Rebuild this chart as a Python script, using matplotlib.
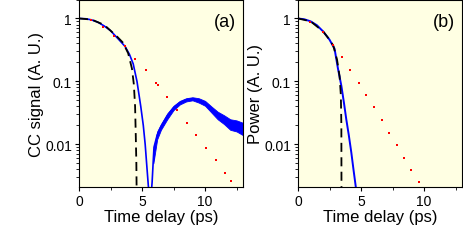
import numpy as np
import matplotlib
matplotlib.use('Agg')
import matplotlib.pyplot as plt
from matplotlib.ticker import MultipleLocator, LogLocator, NullFormatter, FixedFormatter, FixedLocator

plt.rcParams['font.family'] = ['Liberation Sans', 'DejaVu Sans']

# (a) 측정된 CC 신호 (파란 선)
a_t = [0, 0.5, 1, 1.5, 2, 2.5, 3, 3.3, 3.65, 4.0, 4.3, 4.6, 4.9, 5.1, 5.25, 5.4, 5.5, 5.6,
       5.7, 5.8, 5.9, 5.95, 6.2, 6.5, 7.0, 7.5, 8.0, 8.5, 9.0, 9.5, 10.0, 10.5, 11.0, 11.5,
       12.0, 12.5, 13.0]
a_cc = [1, 0.99, 0.95, 0.87, 0.76, 0.64, 0.5, 0.43, 0.36, 0.27, 0.19, 0.1, 0.04, 0.02, 0.01,
        0.004, 0.0022, 0.0014, 0.0014, 0.0025, 0.006, 0.009, 0.014, 0.019, 0.028, 0.038, 0.046,
        0.051, 0.053, 0.05, 0.045, 0.036, 0.029, 0.025, 0.021, 0.02, 0.018]
# 잡음 폭 (상한/하한)
a_noise_t = [5.9, 6.2, 6.5, 7.0, 7.5, 8.0, 8.5, 9.0, 9.5, 10.0, 10.5, 11.0,
             11.5, 12.0, 12.5, 13.0]
a_noise_hi = [0.008, 0.016, 0.021, 0.031, 0.041, 0.049, 0.054, 0.056, 0.054, 0.049, 0.040,
              0.033, 0.029, 0.025, 0.024, 0.022]
a_noise_lo = [0.005, 0.012, 0.017, 0.025, 0.035, 0.043, 0.048, 0.050, 0.046, 0.041, 0.032,
              0.025, 0.021, 0.017, 0.016, 0.014]
# (a) 계산 곡선 (검은 점선)
a_fit_t = [0, 1, 2, 3, 3.5, 3.9, 4.2, 4.35, 4.45, 4.5, 4.55, 4.57]
a_fit = [1, 0.96, 0.79, 0.52, 0.41, 0.28, 0.16, 0.09, 0.04, 0.015, 0.005, 0.002]
# (a) 빨간 점
a_dot_t = [0.94, 1.91, 2.78, 3.65, 4.46, 5.28, 6.09, 6.24, 7.0, 7.77, 8.56, 9.32, 10.08,
           10.84, 11.6, 12.07]
a_dot = [0.94, 0.74, 0.53, 0.36, 0.23, 0.15, 0.095, 0.088, 0.056, 0.035, 0.022, 0.014,
         0.0089, 0.0056, 0.0035, 0.0026]

# (b) 파워
b_t = [0, 0.5, 1, 1.5, 2, 2.5, 2.9, 3.17, 3.44, 3.65, 3.83, 4.03, 4.23, 4.4, 4.6]
b_pw = [1, 0.97, 0.9, 0.78, 0.62, 0.46, 0.33, 0.16, 0.085, 0.045, 0.025, 0.014, 0.0074,
        0.004, 0.002]
b_fit_t = [0, 1, 2, 2.5, 2.8, 3.1, 3.3, 3.4, 3.44, 3.45]
b_fit = [1, 0.9, 0.62, 0.46, 0.37, 0.22, 0.12, 0.06, 0.02, 0.002]
b_dot_t = [0.97, 1.97, 2.78, 3.49, 4.15, 4.8, 5.41, 6.01, 6.64, 7.22, 7.85, 8.43, 9.0, 9.61]
b_dot = [0.88, 0.6, 0.38, 0.24, 0.15, 0.096, 0.061, 0.039, 0.024, 0.015, 0.0098, 0.0061,
         0.0039, 0.0025]

fig = plt.figure(figsize=(4.63, 2.53), dpi=100)
ax1 = fig.add_axes([0.1706, 0.257, 0.354, 0.741])
ax2 = fig.add_axes([0.6436, 0.257, 0.354, 0.741])

bg = '#ffffe3'
for ax, lab, ylab in [(ax1, '(a)', 'CC signal (A. U.)'), (ax2, '(b)', 'Power (A. U.)')]:
    ax.set_facecolor(bg)
    ax.set_yscale('log')
    ax.set_xlim(0, 13)
    ax.set_ylim(0.0021, 2.0)
    ax.xaxis.set_major_locator(MultipleLocator(5))
    ax.xaxis.set_minor_locator(MultipleLocator(2.5))
    ax.yaxis.set_major_locator(FixedLocator([0.01, 0.1, 1]))
    ax.yaxis.set_major_formatter(FixedFormatter(['0.01', '0.1', '1']))
    ax.yaxis.set_minor_locator(LogLocator(base=10, subs=np.arange(2, 10)))
    ax.yaxis.set_minor_formatter(NullFormatter())
    ax.tick_params(labelsize=10, length=3, width=0.8, pad=2)
    ax.tick_params(which='minor', length=2, width=0.6)
    ax.set_xlabel('Time delay (ps)', fontsize=12, labelpad=1)
    ax.set_ylabel(ylab, fontsize=12, labelpad=1)
    ax.text(0.96, 0.93, lab, transform=ax.transAxes, ha='right', va='top', fontsize=13)
    for s in ax.spines.values():
        s.set_linewidth(0.8)

ax1.fill_between(a_noise_t, a_noise_lo, a_noise_hi, color='blue', lw=0.6)
ax1.plot(a_t, a_cc, color='blue', lw=1.2)
ax1.plot(a_fit_t, a_fit, 'k--', lw=1.3, dashes=(5, 3))
ax1.plot(a_dot_t, a_dot, 's', color='red', ms=1.9, mew=0)

ax2.plot(b_t, b_pw, color='blue', lw=1.4)
ax2.plot(b_fit_t, b_fit, 'k--', lw=1.3, dashes=(5, 3))
ax2.plot(b_dot_t, b_dot, 's', color='red', ms=1.9, mew=0)

plt.savefig('out.png', dpi=100)
